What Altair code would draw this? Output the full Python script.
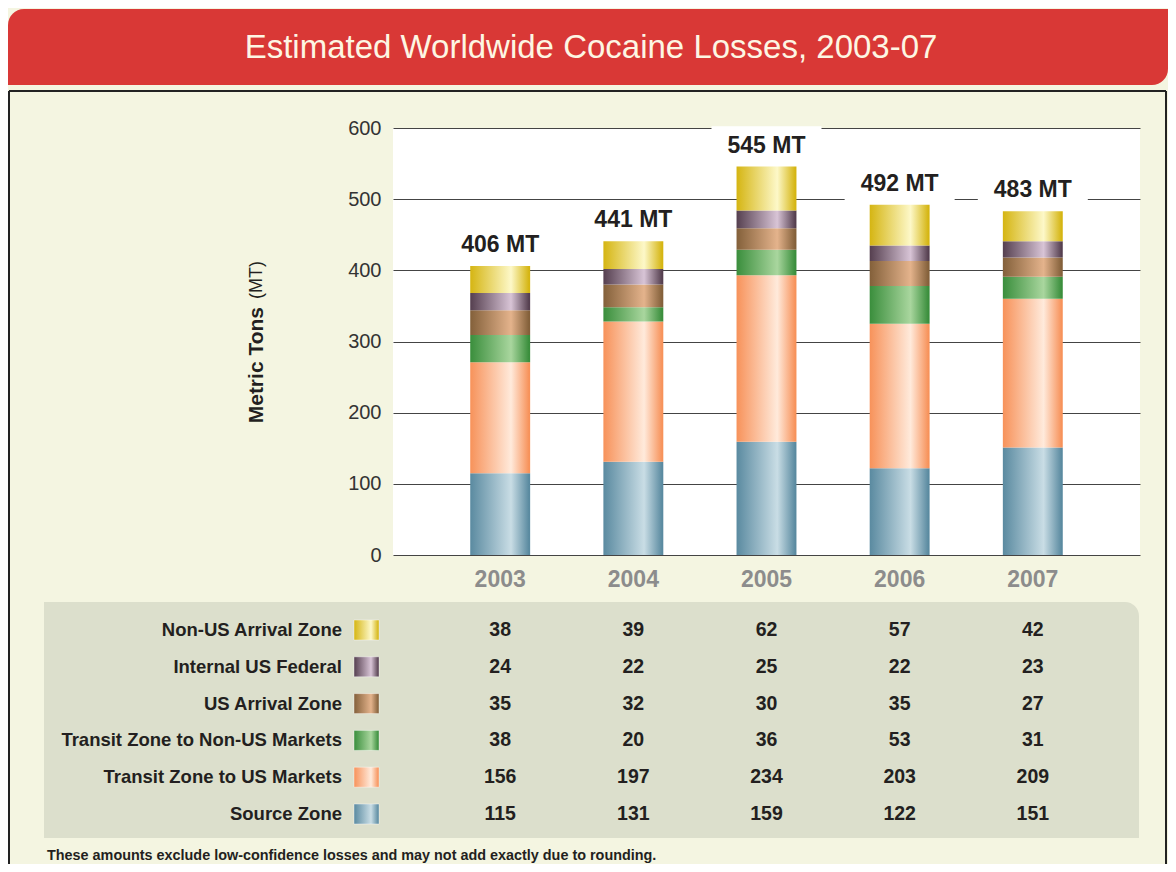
import altair as alt
import pandas as pd

# ---------------- data ----------------
years = ["2003", "2004", "2005", "2006", "2007"]
# bottom -> top stacking order
series = [
    "Source Zone",
    "Transit Zone to US Markets",
    "Transit Zone to Non-US Markets",
    "US Arrival Zone",
    "Internal US Federal",
    "Non-US Arrival Zone",
]
source_zone = [115, 131, 159, 122, 151]
transit_us = [156, 197, 234, 203, 209]
transit_non_us = [38, 20, 36, 53, 31]
us_arrival = [35, 32, 30, 35, 27]
internal_us = [24, 22, 25, 22, 23]
non_us_arrival = [38, 39, 62, 57, 42]
series_values = [source_zone, transit_us, transit_non_us, us_arrival, internal_us, non_us_arrival]
totals = [406, 441, 545, 492, 483]
total_labels = ["406 MT", "441 MT", "545 MT", "492 MT", "483 MT"]
y_ticks = [0, 100, 200, 300, 400, 500, 600]

title_text = "Estimated Worldwide Cocaine Losses, 2003-07"
footnote = "These amounts exclude low-confidence losses and may not add exactly due to rounding."

# ---------------- styles ----------------
shades = {
    "Source Zone": ("#5a8aa0", "#c9dde5"),
    "Transit Zone to US Markets": ("#f7925a", "#ffeadb"),
    "Transit Zone to Non-US Markets": ("#3a8e3c", "#a9d69e"),
    "US Arrival Zone": ("#83603a", "#e4b38c"),
    "Internal US Federal": ("#553f4f", "#d8c4d6"),
    "Non-US Arrival Zone": ("#d5b512", "#fdf8c8"),
}


def grad(s):
    dark, light = shades[s]
    return {
        "gradient": "linear", "x1": 0, "x2": 1, "y1": 0, "y2": 0,
        "stops": [
            {"offset": 0, "color": dark},
            {"offset": 0.68, "color": light},
            {"offset": 0.98, "color": dark},
            {"offset": 1, "color": dark},
        ],
    }


CREAM = "#f4f5e1"
PANEL = "#dcdfcc"
RED = "#d93836"
INK = "#231f20"
SANS = "Liberation Sans, Arial, sans-serif"

W, H = 747, 427

rows = []
for i, s in enumerate(series):
    for y, v in zip(years, series_values[i]):
        rows.append({"year": y, "series": s, "value": v, "order": i})
df = pd.DataFrame(rows)
tot_df = pd.DataFrame({"year": years, "total": totals, "label": total_labels})
one = pd.DataFrame({"k": [0]})

xscale = alt.Scale(domain=years, paddingInner=0.55, paddingOuter=0.58)
xaxis = alt.Axis(title=None, domain=False, ticks=False, labelAngle=0,
                 labelFont=SANS, labelFontWeight="bold", labelFontSize=23,
                 labelColor="#8c8c8c", labelPadding=13)
X = alt.X("year:N", scale=xscale, axis=xaxis, sort=years)

yscale = alt.Scale(domain=[0, 600])
yaxis = alt.Axis(title=None, values=y_ticks, domain=False, ticks=False,
                 labelFont=SANS, labelFontSize=20, labelColor="#333333",
                 labelPadding=12, grid=True, gridColor="#444444", gridWidth=1.2)

# ---------------- decorations ----------------
banner = alt.Chart(one).mark_rect(color=RED, cornerRadiusTopLeft=16, cornerRadiusBottomRight=16).encode(
    x=alt.value(-385), x2=alt.value(775), y=alt.value(-119), y2=alt.value(-43))
title = alt.Chart(one).mark_text(font=SANS, fontSize=33, color="#fdf6e3", align="center",
                                 baseline="middle").encode(
    x=alt.value(198), y=alt.value(-80), text=alt.value(title_text))
frame_top = alt.Chart(one).mark_rule(color="#222222", strokeWidth=2).encode(
    x=alt.value(-384), x2=alt.value(773), y=alt.value(-37))
frame_left = alt.Chart(one).mark_rule(color="#222222", strokeWidth=2).encode(
    x=alt.value(-384), y=alt.value(-37), y2=alt.value(740))
frame_right = alt.Chart(one).mark_rule(color="#222222", strokeWidth=2).encode(
    x=alt.value(773), y=alt.value(-37), y2=alt.value(740))
panel = alt.Chart(one).mark_rect(color=PANEL, cornerRadiusTopRight=14).encode(
    x=alt.value(-349), x2=alt.value(746), y=alt.value(474), y2=alt.value(710))
ytitle1 = alt.Chart(one).mark_text(font=SANS, fontSize=21, fontWeight="bold", color=INK, angle=270,
                                   align="right", baseline="middle").encode(
    x=alt.value(-136), y=alt.value(179), text=alt.value("Metric Tons"))
ytitle2 = alt.Chart(one).mark_text(font=SANS, fontSize=18, color=INK, angle=270,
                                   align="left", baseline="middle").encode(
    x=alt.value(-136), y=alt.value(171), text=alt.value("(MT)"))
foot = alt.Chart(one).mark_text(font=SANS, fontSize=14.4, fontWeight="bold", color=INK,
                                align="left", baseline="middle").encode(
    x=alt.value(-346), y=alt.value(728), text=alt.value(footnote))

decor = alt.layer(banner, title, frame_top, frame_left, frame_right, panel, ytitle1, ytitle2, foot)

# ---------------- bars ----------------
box_shape = "M-1,-0.36H1V0.36H-1Z"
boxes = alt.Chart(tot_df).mark_point(shape=box_shape, size=110 * 110, filled=True, fill="white",
                                     opacity=1, strokeWidth=0, yOffset=-21).encode(
    x=X, y=alt.Y("total:Q", scale=yscale, axis=yaxis))

bar_layers = []
for i, s in enumerate(series):
    bar_layers.append(
        alt.Chart(df)
        .transform_stack(stack="value", groupby=["year"], as_=["y0", "y1"],
                         sort=[alt.SortField("order", order="ascending")])
        .transform_filter(alt.datum.series == s)
        .mark_bar(color=grad(s))
        .encode(x=X, y=alt.Y("y0:Q", scale=yscale, axis=yaxis), y2="y1:Q")
    )

tot_text = alt.Chart(tot_df).mark_text(font=SANS, fontSize=23, fontWeight="bold", color=INK,
                                       baseline="middle", dy=-21).encode(
    x=X, y=alt.Y("total:Q", scale=yscale, axis=yaxis), text="label:N")

bars_group = alt.layer(boxes, *bar_layers, tot_text)

# ---------------- table ----------------
table_order = list(reversed(series))
tscale = alt.Scale(domain=table_order, range=[502, 686], padding=0)
TY = alt.Y("series:N", scale=tscale, axis=None, sort=table_order)

cells = alt.Chart(df).mark_text(font=SANS, fontSize=19.5, fontWeight="bold", color=INK,
                                baseline="middle").encode(x=X, y=TY, text="value:Q")
labels_df = pd.DataFrame({"series": series})
row_labels = alt.Chart(labels_df).mark_text(font=SANS, fontSize=18.5, fontWeight="bold", color=INK,
                                            align="right", baseline="middle").encode(
    x=alt.value(-51), y=TY, text="series:N")
swatches = []
for s in series:
    swatches.append(
        alt.Chart(labels_df).transform_filter(alt.datum.series == s)
        .mark_point(shape="M-1,-0.8H1V0.8H-1Z", size=625, filled=True, fill=grad(s), opacity=1,
                    stroke="#ffffff", strokeWidth=0.6, strokeOpacity=0.7)
        .encode(x=alt.value(-26.5), y=TY)
    )

table_group = alt.layer(cells, row_labels, *swatches)

chart = (
    alt.layer(decor, bars_group, table_group)
    .resolve_scale(y="independent")
    .properties(width=W, height=H,
                autosize=alt.AutoSizeParams(type="none"),
                padding={"left": 385, "top": 120, "right": 28, "bottom": 309})
    .configure(background=CREAM)
    .configure_view(fill="white", strokeWidth=0)
)

chart.save("out.html", embed_options={"renderer": "svg", "actions": False})
